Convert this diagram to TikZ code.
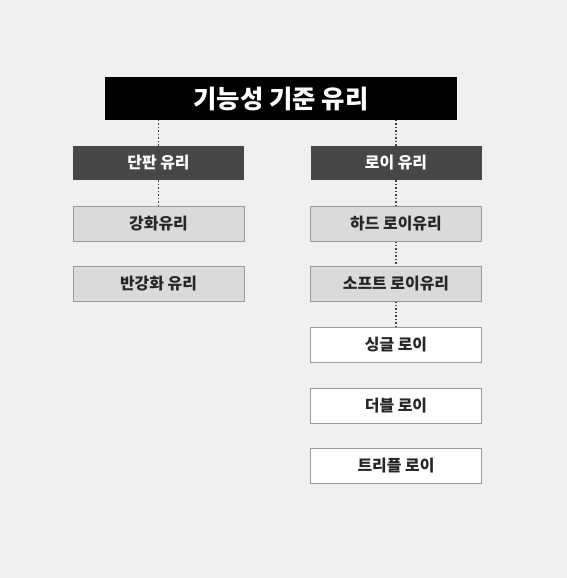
\documentclass[tikz,border=0pt]{standalone}
\usepackage{fontspec}
\setmainfont{Noto Sans CJK KR}
\definecolor{bg}{HTML}{F0F0F0}
\definecolor{darkbox}{HTML}{474747}
\definecolor{lightbox}{HTML}{DCDAD8}
\definecolor{boxline}{HTML}{9A9A9A}
\definecolor{dotline}{HTML}{444444}
\begin{document}
\begin{tikzpicture}[x=1bp,y=-1bp,
  title/.style={fill=black,draw=none,text=white,minimum width=352bp,minimum height=43bp,inner sep=0pt,font=\fontsize{25.5}{29}\selectfont\bfseries},
  darkb/.style={fill=darkbox,draw=none,text=white,minimum width=171bp,minimum height=34bp,inner sep=0pt,font=\fontsize{16}{19}\selectfont\bfseries},
  lightb/.style={fill=lightbox,draw=boxline,line width=1bp,text=black!85,minimum width=171bp,minimum height=35bp,inner sep=0pt,font=\fontsize{16}{19}\selectfont\bfseries},
  whiteb/.style={fill=white,draw=boxline,line width=1bp,text=black!85,minimum width=171bp,minimum height=35bp,inner sep=0pt,font=\fontsize{16}{19}\selectfont\bfseries},
  link/.style={draw=dotline,line width=1.5bp,dotted}]
\fill[bg] (0,0) rectangle (567,578);
\useasboundingbox (0,0) rectangle (567,578);
\node[title] (top) at (281,98.5) {기능성 기준 유리};
\node[darkb] (pan) at (158.5,163) {단판 유리};
\node[darkb] (low) at (396,163) {로이 유리};
\node[lightb] (gang) at (158.5,223.5) {강화유리};
\node[lightb] (ban) at (158.5,283.5) {반강화 유리};
\node[lightb] (hard) at (396,223.5) {하드 로이유리};
\node[lightb] (soft) at (396,283.5) {소프트 로이유리};
\node[whiteb] (single) at (396,345) {싱글 로이};
\node[whiteb] (double) at (396,406) {더블 로이};
\node[whiteb] (triple) at (396,466) {트리플 로이};
\coordinate (t1) at (158.5,120);
\coordinate (t2) at (396,120);
\draw[link] (t1) -- (pan.north);
\draw[link] (t2) -- (low.north);
\draw[link] (pan.south) -- (gang.north);
\draw[link] (low.south) -- (hard.north);
\draw[link] (hard.south) -- (soft.north);
\draw[link] (soft.south) -- (single.north);
\end{tikzpicture}
\end{document}
